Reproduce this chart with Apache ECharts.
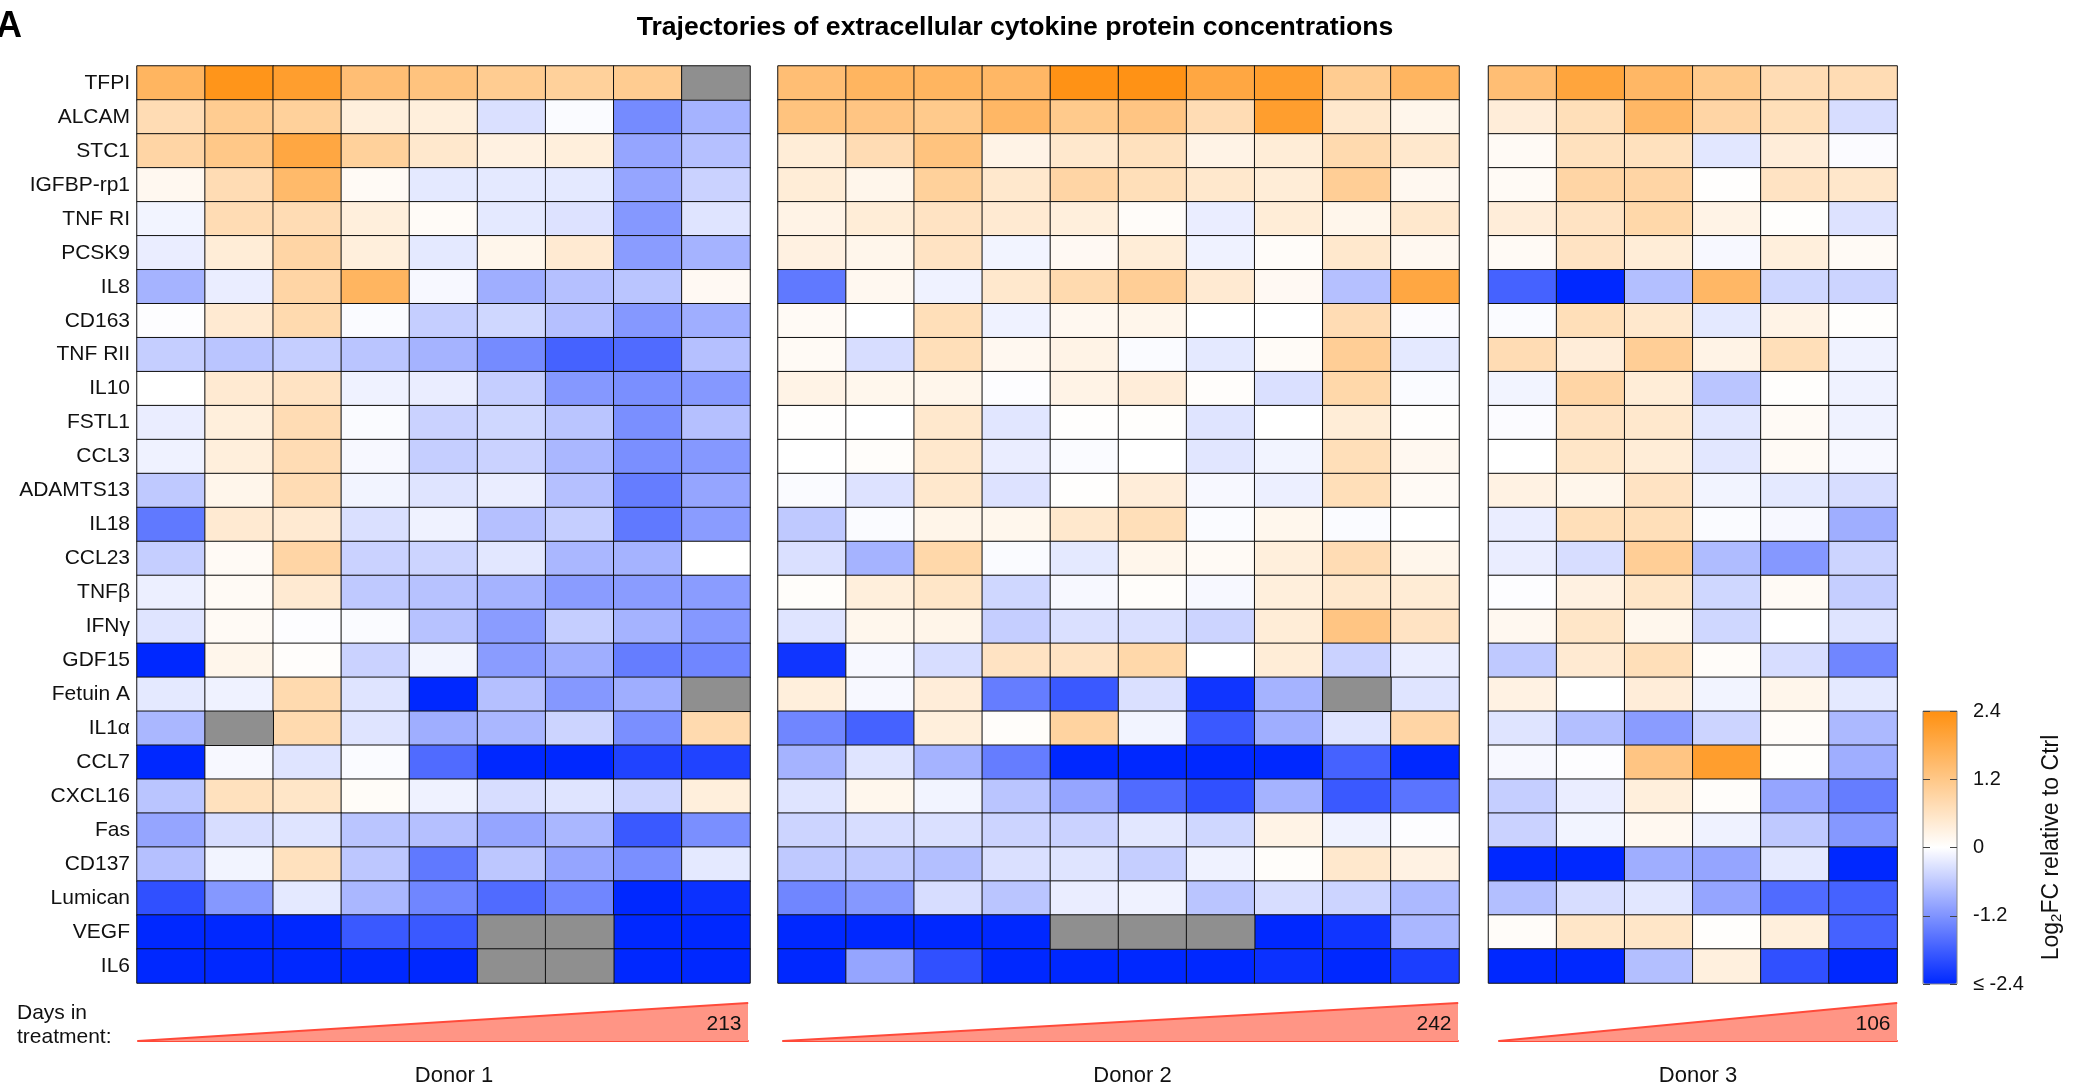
<!DOCTYPE html>
<html><head><meta charset="utf-8">
<script src="https://cdn.jsdelivr.net/npm/echarts@6/dist/echarts.min.js"></script>
<style>html,body{margin:0;padding:0;background:#fff}#c{width:2077px;height:1086px}</style>
</head><body><div id="c"></div>
<script>
const proteins = ['TFPI','ALCAM','STC1','IGFBP-rp1','TNF RI','PCSK9','IL8','CD163','TNF RII','IL10','FSTL1','CCL3','ADAMTS13','IL18','CCL23','TNFβ','IFNγ','GDF15','Fetuin A','IL1α','CCL7','CXCL16','Fas','CD137','Lumican','VEGF','IL6'];
const donorNames = ['Donor 1','Donor 2','Donor 3'];
const donorDays = [213, 242, 106];
const colorTicks = [-2.4, -1.2, 0, 1.2, 2.4];

const donor1 = [
 [1.6, 2.3, 2.1, 1.4, 1.3, 1.1, 1.0, 1.1, null],
 [0.75, 1.1, 1.0, 0.35, 0.35, -0.35, -0.05, -1.3, -0.85],
 [0.9, 1.2, 1.9, 1.0, 0.5, 0.3, 0.35, -1.0, -0.7],
 [0.15, 0.75, 1.5, 0.1, -0.25, -0.25, -0.25, -1.0, -0.5],
 [-0.12, 0.75, 0.75, 0.35, 0.08, -0.25, -0.32, -1.15, -0.3],
 [-0.2, 0.4, 0.9, 0.35, -0.25, 0.2, 0.45, -1.1, -0.85],
 [-0.85, -0.2, 0.9, 1.6, -0.08, -0.9, -0.7, -0.65, 0.12],
 [-0.02, 0.45, 0.8, -0.05, -0.55, -0.45, -0.7, -1.15, -0.9],
 [-0.55, -0.65, -0.55, -0.65, -0.85, -1.3, -1.75, -1.65, -0.7],
 [0.0, 0.45, 0.6, -0.15, -0.2, -0.55, -1.15, -1.25, -1.15],
 [-0.2, 0.35, 0.75, -0.05, -0.5, -0.45, -0.65, -1.25, -0.7],
 [-0.15, 0.35, 0.75, -0.08, -0.55, -0.5, -0.8, -1.25, -1.15],
 [-0.6, 0.2, 0.75, -0.12, -0.3, -0.2, -0.7, -1.45, -1.0],
 [-1.5, 0.45, 0.45, -0.35, -0.15, -0.7, -0.55, -1.5, -1.1],
 [-0.55, 0.1, 0.9, -0.5, -0.48, -0.27, -0.8, -0.85, 0.0],
 [-0.18, 0.1, 0.45, -0.6, -0.68, -0.85, -1.1, -1.1, -1.1],
 [-0.3, 0.1, -0.02, -0.05, -0.68, -1.1, -0.55, -0.85, -1.15],
 [-2.4, 0.2, 0.04, -0.5, -0.12, -1.1, -0.9, -1.45, -1.35],
 [-0.25, -0.15, 0.8, -0.3, -2.4, -0.7, -1.15, -0.9, null],
 [-0.8, null, 0.8, -0.3, -0.9, -0.8, -0.48, -1.25, 0.8],
 [-2.4, -0.08, -0.3, -0.05, -1.65, -2.4, -2.4, -2.1, -2.1],
 [-0.65, 0.65, 0.55, 0.07, -0.15, -0.38, -0.3, -0.48, 0.35],
 [-1.0, -0.38, -0.3, -0.65, -0.7, -1.0, -0.8, -1.85, -1.25],
 [-0.7, -0.12, 0.65, -0.62, -1.5, -0.62, -1.0, -1.25, -0.25],
 [-1.95, -1.15, -0.25, -0.8, -1.35, -1.65, -1.35, -2.4, -2.3],
 [-2.4, -2.4, -2.4, -1.85, -1.85, null, null, -2.4, -2.4],
 [-2.4, -2.4, -2.4, -2.4, -2.4, null, null, -2.4, -2.4]
];
const donor2 = [
 [1.4, 1.6, 1.6, 1.55, 2.35, 2.35, 1.9, 2.1, 1.1, 1.6],
 [1.3, 1.25, 1.15, 1.55, 1.15, 1.25, 0.75, 2.1, 0.5, 0.2],
 [0.4, 0.75, 1.3, 0.25, 0.5, 0.65, 0.25, 0.4, 0.8, 0.5],
 [0.4, 0.2, 1.0, 0.5, 0.9, 0.7, 0.5, 0.4, 1.05, 0.15],
 [0.25, 0.4, 0.6, 0.45, 0.35, 0.06, -0.2, 0.4, 0.2, 0.5],
 [0.3, 0.2, 0.6, -0.12, 0.12, 0.4, -0.15, 0.06, 0.5, 0.15],
 [-1.5, 0.15, -0.15, 0.5, 0.8, 1.05, 0.45, 0.12, -0.7, 1.9],
 [0.1, 0.0, 0.7, -0.15, 0.15, 0.2, 0.0, 0.0, 0.75, -0.04],
 [0.1, -0.38, 0.7, 0.15, 0.25, -0.05, -0.25, 0.08, 1.05, -0.25],
 [0.25, 0.18, 0.2, -0.02, 0.25, 0.38, 0.04, -0.35, 0.85, -0.05],
 [0.02, 0.0, 0.5, -0.28, 0.02, 0.03, -0.3, 0.0, 0.4, 0.02],
 [0.0, 0.05, 0.5, -0.2, -0.05, 0.0, -0.28, -0.12, 0.7, 0.15],
 [-0.05, -0.32, 0.5, -0.32, 0.02, 0.38, -0.08, -0.18, 0.7, 0.1],
 [-0.6, -0.05, 0.22, 0.18, 0.5, 0.7, -0.05, 0.18, -0.05, 0.0],
 [-0.35, -0.85, 0.85, -0.05, -0.25, 0.2, 0.1, 0.35, 0.75, 0.2],
 [0.05, 0.35, 0.55, -0.45, -0.08, 0.05, -0.08, 0.35, 0.5, 0.42],
 [-0.3, 0.18, 0.22, -0.55, -0.35, -0.35, -0.48, 0.4, 1.25, 0.6],
 [-2.25, -0.08, -0.38, 0.6, 0.6, 0.85, 0.0, 0.4, -0.5, -0.2],
 [0.35, -0.08, 0.38, -1.45, -1.85, -0.35, -2.25, -0.85, null, -0.3],
 [-1.35, -1.75, 0.35, 0.05, 0.95, -0.12, -1.85, -0.9, -0.3, 0.9],
 [-0.85, -0.3, -0.85, -1.45, -2.4, -2.4, -2.4, -2.4, -1.75, -2.4],
 [-0.3, 0.18, -0.12, -0.65, -1.0, -1.65, -1.95, -0.85, -1.85, -1.55],
 [-0.48, -0.38, -0.35, -0.48, -0.5, -0.27, -0.45, 0.25, -0.15, -0.02],
 [-0.6, -0.6, -0.72, -0.35, -0.3, -0.55, -0.15, 0.05, 0.5, 0.28],
 [-1.35, -1.15, -0.38, -0.65, -0.2, -0.15, -0.65, -0.38, -0.48, -0.78],
 [-2.4, -2.4, -2.4, -2.4, null, null, null, -2.4, -2.25, -0.8],
 [-2.4, -1.0, -1.95, -2.4, -2.4, -2.4, -2.4, -2.3, -2.4, -2.15]
];
const donor3 = [
 [1.4, 1.95, 1.55, 1.15, 0.75, 0.75],
 [0.38, 0.7, 1.55, 0.9, 0.7, -0.38],
 [0.1, 0.65, 0.65, -0.27, 0.38, -0.04],
 [0.1, 0.9, 0.9, 0.02, 0.6, 0.52],
 [0.38, 0.6, 0.85, 0.25, 0.03, -0.32],
 [0.1, 0.6, 0.4, -0.08, 0.35, 0.1],
 [-1.75, -2.4, -0.72, 1.55, -0.45, -0.48],
 [-0.05, 0.7, 0.5, -0.25, 0.25, 0.03],
 [0.75, 0.38, 1.05, 0.25, 0.7, -0.15],
 [-0.12, 0.9, 0.4, -0.65, 0.03, -0.15],
 [-0.04, 0.6, 0.5, -0.27, 0.1, -0.15],
 [0.0, 0.55, 0.4, -0.27, 0.1, -0.08],
 [0.28, 0.2, 0.6, -0.12, -0.25, -0.38],
 [-0.2, 0.7, 0.7, -0.05, -0.08, -0.9],
 [-0.2, -0.38, 1.05, -0.75, -1.15, -0.48],
 [-0.02, 0.3, 0.55, -0.45, 0.1, -0.55],
 [0.15, 0.55, 0.18, -0.45, 0.0, -0.3],
 [-0.6, 0.45, 0.7, 0.06, -0.38, -1.35],
 [0.28, 0.0, 0.38, -0.12, 0.2, -0.25],
 [-0.3, -0.72, -1.1, -0.48, 0.06, -0.78],
 [-0.08, -0.02, 1.25, 2.1, 0.03, -0.9],
 [-0.55, -0.2, 0.35, 0.05, -1.0, -1.45],
 [-0.5, -0.12, 0.15, -0.15, -0.6, -1.15],
 [-2.4, -2.4, -0.9, -1.0, -0.25, -2.4],
 [-0.72, -0.38, -0.27, -1.0, -1.65, -1.75],
 [0.06, 0.55, 0.55, 0.03, 0.35, -1.75],
 [-2.4, -2.4, -0.72, 0.33, -1.95, -2.4]
];

const FONT = '"Liberation Sans", Arial, Helvetica, sans-serif';
const matrices = [donor1, donor2, donor3];
const panels = [
  {left: 137, width: 613},
  {left: 778, width: 681},
  {left: 1488.5, width: 408.6}
];
const triBoxes = [
  {left: 138, width: 610, pad: 22},
  {left: 783, width: 675, pad: 24},
  {left: 1499, width: 398, pad: 0}
];
const grids = [], xAxes = [], yAxes = [], series = [], missing = [];

panels.forEach((p, i) => {
  grids.push({left: p.left, top: 66, width: p.width, height: 917, outerBoundsMode: 'none'});
  const m = matrices[i];
  const ncol = m[0].length;
  xAxes.push({type: 'category', gridIndex: i, data: Array.from({length: ncol}, (_, k) => String(k + 1)), show: false});
  yAxes.push({type: 'category', gridIndex: i, data: proteins, inverse: true,
    axisLine: {show: false}, axisTick: {show: false}, splitLine: {show: false},
    axisLabel: {show: i === 0, fontSize: 21, color: '#111', margin: 7, fontFamily: FONT}});
  const vals = [], miss = [];
  m.forEach((row, r) => row.forEach((v, c) => {
    if (v === null) miss.push([c, r, 0]); else vals.push([c, r, v]);
  }));
  series.push({type: 'heatmap', xAxisIndex: i, yAxisIndex: i, data: vals,
    itemStyle: {borderColor: '#111', borderWidth: 1}, emphasis: {disabled: true}, silent: true});
  missing.push({type: 'heatmap', xAxisIndex: i, yAxisIndex: i, data: miss,
    itemStyle: {color: '#8f8f8f', borderColor: '#111', borderWidth: 1}, emphasis: {disabled: true}, silent: true});
});
missing.forEach(s => series.push(s));

// colour bar grid (index 3)
grids.push({left: 1923, top: 711, width: 34, height: 273, show: true, borderColor: '#888', borderWidth: 1,
  backgroundColor: 'transparent', z: 10, outerBoundsMode: 'none'});
xAxes.push({type: 'value', gridIndex: 3, show: false, min: 0, max: 1});
const cbAxisBase = {type: 'value', gridIndex: 3, min: colorTicks[0], max: colorTicks[colorTicks.length - 1], interval: 1.2, z: 10,
  axisLine: {show: false}, splitLine: {show: false},
  axisTick: {show: true, inside: true, length: 7, lineStyle: {color: '#444', width: 1}}};
yAxes.push(Object.assign({}, cbAxisBase, {position: 'left', axisLabel: {show: false}}));
yAxes.push(Object.assign({}, cbAxisBase, {position: 'right',
  axisLabel: {show: true, fontSize: 20, color: '#111', margin: 16, fontFamily: FONT,
    formatter: v => (v <= colorTicks[0] + 1e-9 ? '≤ -2.4' : String(Math.round(v * 10) / 10))},
  name: '{n|Log}{s|2}{n|FC relative to Ctrl}', nameLocation: 'middle', nameRotate: 90, nameGap: 82,
  nameTextStyle: {rich: {n: {fontSize: 23, color: '#111', fontFamily: FONT}, s: {fontSize: 15, color: '#111', fontFamily: FONT, verticalAlign: 'bottom', padding: [10, 0, 0, 0]}}}}));

// days in treatment triangles (grids 4..6)
donorDays.forEach((d, i) => {
  const g = 4 + i;
  const b = triBoxes[i];
  grids.push({left: b.left, top: 1003, width: b.width, height: 38, outerBoundsMode: 'none'});
  xAxes.push({type: 'value', gridIndex: g, min: 0, max: d,
    axisLine: {show: true, lineStyle: {color: '#ff4a3a', width: 2}}, axisTick: {show: false}, axisLabel: {show: false}, splitLine: {show: false},
    name: donorNames[i], nameLocation: 'middle', nameGap: 24,
    nameTextStyle: {fontSize: 22, color: '#111', fontFamily: FONT, padding: [0, 0, 0, b.pad]}});
  yAxes.push({type: 'value', gridIndex: g, min: 0, max: d, show: false});
  series.push({type: 'line', xAxisIndex: 4 + i, yAxisIndex: 5 + i, silent: true,
    data: [[0, 0], {value: [d, d], label: {show: true, position: 'left', distance: 6, offset: [0, 21],
      formatter: p => String(p.value[0]), fontSize: 21, color: '#111', fontFamily: FONT}}],
    symbol: 'circle', symbolSize: 1, itemStyle: {color: '#ff4a3a'},
    lineStyle: {color: '#ff4a3a', width: 2}, areaStyle: {color: '#ff9585', opacity: 1}, z: 2});
});

const option = {
  backgroundColor: '#fff',
  animation: false,
  textStyle: {fontFamily: FONT},
  title: [
    {text: 'Trajectories of extracellular cytokine protein concentrations', left: 1010, top: 9, textAlign: 'center',
      textStyle: {fontSize: 26.6, fontWeight: 'bold', color: '#000', fontFamily: FONT}},
    {text: 'A', left: -9, top: 4, textStyle: {fontSize: 36, fontWeight: 'bold', color: '#000', fontFamily: FONT}}
  ],
  graphic: [
    {type: 'text', left: 17, top: 1001, silent: true,
      style: {text: 'Days in\ntreatment:', font: '21px ' + FONT, lineHeight: 24, fill: '#111'}}
  ],
  visualMap: {type: 'continuous', min: -2.4, max: 2.4, seriesIndex: [0, 1, 2], calculable: false, orient: 'vertical',
    left: 1923, top: 711, itemWidth: 34, itemHeight: 273, padding: 0, hoverLink: false,
    inRange: {color: ['#0028ff', '#ffffff', '#ff9010']}},
  grid: grids,
  xAxis: xAxes,
  yAxis: yAxes,
  series: series
};
const chart = echarts.init(document.getElementById('c'));
chart.setOption(option);
</script>
</body></html>
